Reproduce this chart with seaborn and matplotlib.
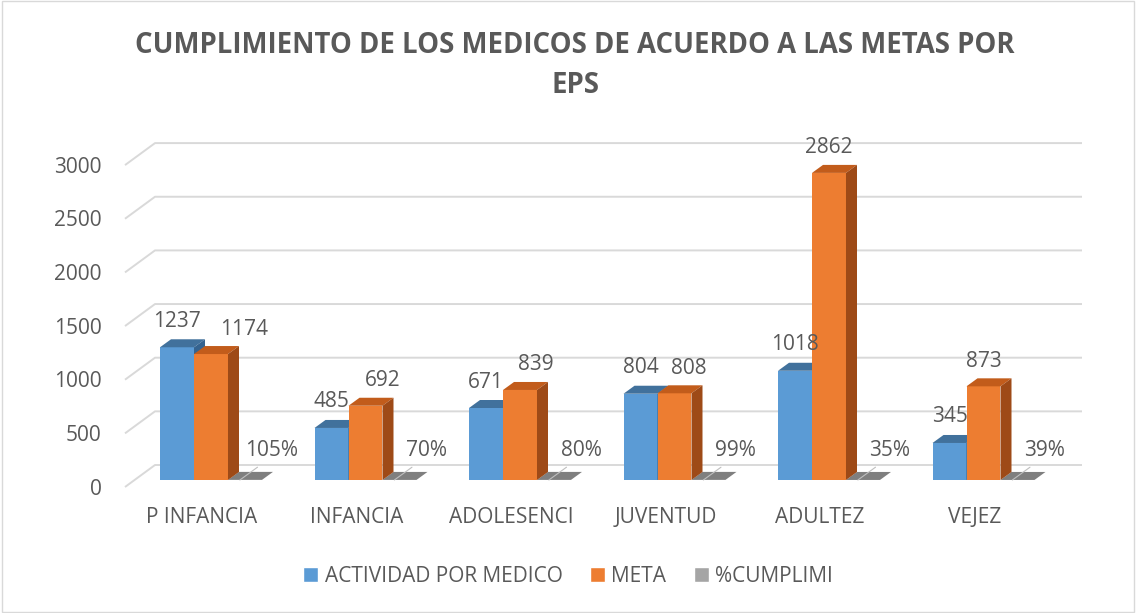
import matplotlib
matplotlib.use('Agg')
import matplotlib.pyplot as plt
from matplotlib.patches import Polygon, Rectangle
import seaborn as sns
import pandas as pd

categories = ['P INFANCIA', 'INFANCIA', 'ADOLESENCI', 'JUVENTUD', 'ADULTEZ', 'VEJEZ']
actividad = [1237, 485, 671, 804, 1018, 345]
meta = [1174, 692, 839, 808, 2862, 873]
cumplimiento = [105, 70, 80, 99, 35, 39]  # percent
series = ['ACTIVIDAD POR MEDICO', 'META', '%CUMPLIMI']
colors = ['#5B9BD5', '#ED7D31', '#A5A5A5']
top_colors = ['#41719C', '#C25C1B', '#7F7F7F']
side_colors = ['#35638F', '#9E4A17', '#6F6F6F']
yticks = [0, 500, 1000, 1500, 2000, 2500, 3000]

df = pd.DataFrame({
    'cat': categories * 3,
    'serie': [series[0]] * 6 + [series[1]] * 6 + [series[2]] * 6,
    'valor': actividad + meta + [p / 100 for p in cumplimiento],
})

sns.set_style('white')
plt.rcParams['font.family'] = ['Open Sans', 'DejaVu Sans']
text_color = '#595959'

W, H = 1136, 613
# pixel layout of the front plane of the bars
ox, oy = 211, 480          # centre of first group, baseline
sx, sy = 154.5, 0.1073     # px per category, px per unit
xlim = (-0.6, 5.7)
ylim = (-100, 3300)

fig = plt.figure(figsize=(W / 100, H / 100), dpi=100)
left_px = ox + xlim[0] * sx
right_px = ox + xlim[1] * sx
bot_px = oy - ylim[0] * sy
top_px = oy - ylim[1] * sy
ax = fig.add_axes([left_px / W, 1 - bot_px / H, (right_px - left_px) / W, (bot_px - top_px) / H])

sns.barplot(data=df, x='cat', y='valor', hue='serie', hue_order=series, palette=colors,
            order=categories, width=0.66, saturation=1, errorbar=None, ax=ax)
ax.set_xlim(*xlim)
ax.set_ylim(*ylim)

# back wall gridlines (3D look)
xf = (125 - ox) / sx
xb = (155 - ox) / sx
xr = (1082 - ox) / sx
for v in yticks:
    ax.plot([xf, xb, xr], [v - 7 / sy, v + 15 / sy, v + 15 / sy], color='#D9D9D9', lw=1.4,
            zorder=0, solid_capstyle='butt')

# bar depth faces
ddx = 11 / sx
ddy = 8 / sy
zorders = [2, 3, 1.5]
for k, cont in enumerate(ax.containers):
    z = zorders[k]
    for p in cont:
        x0, w, h = p.get_x(), p.get_width(), p.get_height()
        p.set_zorder(z)
        p.set_linewidth(0)
        top = Polygon([(x0, h), (x0 + w, h), (x0 + w + ddx, h + ddy), (x0 + ddx, h + ddy)],
                      closed=True, facecolor=top_colors[k], edgecolor='none', zorder=z)
        ax.add_patch(top)
        if k < 2:
            side = Polygon([(x0 + w, 0), (x0 + w, h), (x0 + w + ddx, h + ddy), (x0 + w + ddx, ddy)],
                           closed=True, facecolor=side_colors[k], edgecolor='none', zorder=z)
            ax.add_patch(side)
        else:
            ax.plot([x0 + w * 0.35, x0 + w * 0.35 + ddx * 1.6], [0, ddy * 1.6], color='#BFBFBF',
                    lw=0.8, zorder=z + 0.1)

# data labels
meta_nudge = [33, 17, 16, 14, 0, 0]
for i, p in enumerate(ax.containers[0]):
    ax.annotate(str(actividad[i]), (p.get_x() + p.get_width() / 2, p.get_height()),
                xytext=(0, 26), textcoords='offset pixels', ha='center', va='center',
                fontsize=15, color=text_color, zorder=5)
for i, p in enumerate(ax.containers[1]):
    ax.annotate(str(meta[i]), (p.get_x() + p.get_width() / 2, p.get_height()),
                xytext=(meta_nudge[i], 25), textcoords='offset pixels', ha='center', va='center',
                fontsize=15, color=text_color, zorder=5)
for i, p in enumerate(ax.containers[2]):
    ax.annotate(f'{cumplimiento[i]}%', (p.get_x() + p.get_width() / 2, 0),
                xytext=(27, 30), textcoords='offset pixels', ha='center', va='center',
                fontsize=15, color=text_color, zorder=5)

# axes text (category labels sit a little left of the bar groups)
ax.set_xlabel('')
ax.set_ylabel('')
ax.set_xticks([i - 9 / sx for i in range(len(categories))])
ax.set_xticklabels(categories, fontsize=15, color=text_color)
ax.set_yticks([v - 62 for v in yticks])
ax.set_yticklabels([str(v) for v in yticks], fontsize=15, color=text_color)
ax.tick_params(axis='both', length=0)
ax.tick_params(axis='y', pad=12)
ax.tick_params(axis='x', pad=12)
for s in ax.spines.values():
    s.set_visible(False)

sns.move_legend(ax, 'center', bbox_to_anchor=(0.5, 1 - 576 / H), bbox_transform=fig.transFigure,
                ncol=3, frameon=False, title=None, fontsize=15, handlelength=0.75,
                handleheight=0.75, columnspacing=1.3, handletextpad=0.3)
for t in ax.get_legend().get_texts():
    t.set_color(text_color)

fig.text(575 / W, 1 - 65.5 / H, 'CUMPLIMIENTO DE LOS MEDICOS DE ACUERDO A LAS METAS POR\nEPS',
         ha='center', va='center', fontsize=19.8, fontweight='bold', color=text_color,
         linespacing=1.5)

fig.patches.append(Rectangle((0.002, 0.002), 0.996, 0.996, transform=fig.transFigure,
                             fill=False, edgecolor='#D9D9D9', lw=1))

fig.savefig('out.png', dpi=100)
